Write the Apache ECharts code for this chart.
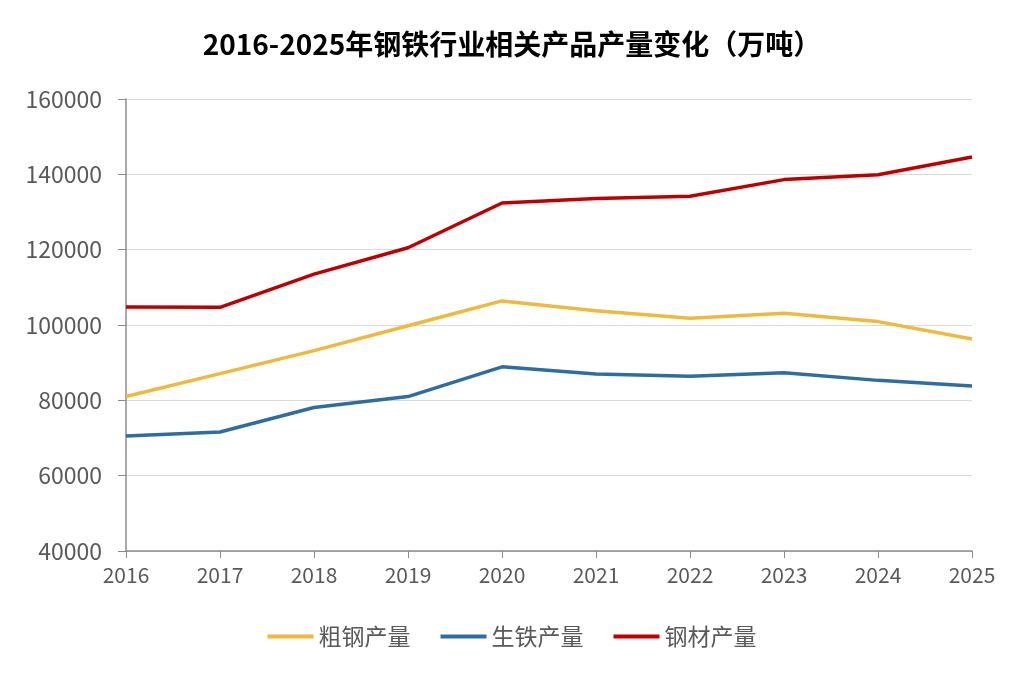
<!DOCTYPE html>
<html>
<head>
<meta charset="utf-8">
<script src="https://cdn.jsdelivr.net/npm/echarts@6/dist/echarts.min.js"></script>
<style>
  html, body { margin: 0; padding: 0; background: #fff; }
  #chart { width: 1024px; height: 673px; }
</style>
</head>
<body>
<div id="chart"></div>
<script>
// 年份
const years = ['2016', '2017', '2018', '2019', '2020', '2021', '2022', '2023', '2024', '2025']
// 粗钢产量（万吨）
const crudeSteel = [81000, 87100, 93200, 99800, 106400, 103800, 101800, 103100, 100900, 96300]
// 生铁产量（万吨）
const pigIron = [70500, 71600, 78100, 81000, 88900, 87000, 86400, 87300, 85300, 83800]
// 钢材产量（万吨）
const steelProducts = [104800, 104700, 113500, 120500, 132400, 133600, 134200, 138600, 139900, 144600]

const font = '"Noto Sans CJK SC", "Noto Sans", sans-serif'
const colors = ['#F0B83C', '#2E6DA4', '#C00000']

const chart = echarts.init(document.getElementById('chart'), null, { renderer: 'canvas' })

function lineSeries(name, data, color) {
  return {
    name,
    type: 'line',
    data,
    symbol: 'none',
    smooth: false,
    lineStyle: { width: 3.5, color },
    itemStyle: { color }
  }
}

chart.setOption({
  backgroundColor: '#fff',
  animation: false,
  title: {
    text: '2016-2025年钢铁行业相关产品产量变化（万吨）',
    left: 'center',
    top: 25,
    textStyle: { fontFamily: font, fontSize: 28, fontWeight: 'bold', color: '#000' }
  },
  legend: {
    bottom: 20,
    left: 'center',
    itemWidth: 46,
    itemHeight: 4,
    itemGap: 30,
    icon: 'rect',
    textStyle: { fontFamily: font, fontSize: 23, color: '#595959' },
    data: ['粗钢产量', '生铁产量', '钢材产量']
  },
  grid: { left: 126, right: 52, top: 99, bottom: 122, containLabel: false },
  xAxis: {
    type: 'category',
    data: years,
    boundaryGap: false,
    axisLine: { lineStyle: { color: '#8c8c8c', width: 1.5 } },
    axisTick: { show: true, alignWithLabel: true, length: 7, lineStyle: { color: '#8c8c8c' } },
    axisLabel: { fontFamily: font, fontSize: 21, color: '#595959', margin: 14 }
  },
  yAxis: {
    type: 'value',
    min: 40000,
    max: 160000,
    interval: 20000,
    axisLine: { show: true, lineStyle: { color: '#8c8c8c', width: 1.5 } },
    axisTick: { show: true, inside: false, length: 8, lineStyle: { color: '#8c8c8c' } },
    splitLine: { lineStyle: { color: '#d9d9d9', width: 1.2 } },
    axisLabel: {
      fontFamily: font,
      fontSize: 23,
      color: '#595959',
      margin: 24,
      formatter: v => String(v)
    }
  },
  series: [
    lineSeries('粗钢产量', crudeSteel, colors[0]),
    lineSeries('生铁产量', pigIron, colors[1]),
    lineSeries('钢材产量', steelProducts, colors[2])
  ]
})

window.addEventListener('resize', () => chart.resize())
</script>
</body>
</html>
